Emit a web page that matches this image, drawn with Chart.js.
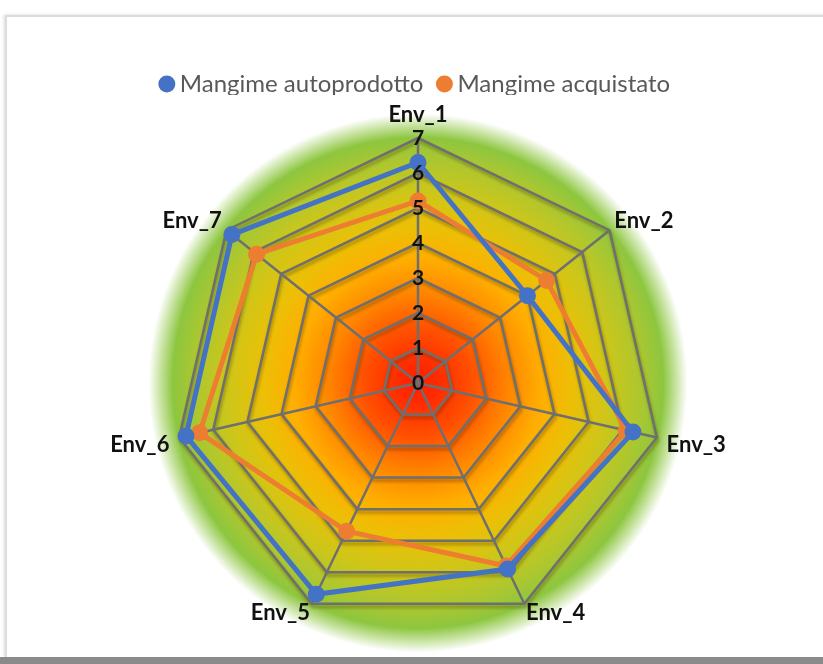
<!DOCTYPE html>
<html>
<head>
<meta charset="utf-8">
<script src="https://cdn.jsdelivr.net/npm/chart.js@4.4.1/dist/chart.umd.min.js"></script>
<style>
    html, body { margin: 0; padding: 0; background: #ffffff; }
    #wrap { position: relative; width: 823px; height: 664px; overflow: hidden; }
    #frame {
        position: absolute; left: 5px; top: 15px; width: 830px; height: 640px;
        border-top: 2px solid #dcdcdc; border-left: 2px solid #dcdcdc;
        box-shadow: -1px 0 3px rgba(0,0,0,0.15);
    }
    #band { position: absolute; left: 0; top: 657px; width: 823px; height: 7px; background: #8a8a8a; }
    #chart { position: absolute; left: 0; top: 0; }
</style>
</head>
<body>
<div id="wrap">
    <div id="frame"></div>
    <div id="band"></div>
    <canvas id="chart" width="823" height="664"></canvas>
</div>
<script>
// Data
const categories = ['Env_1', 'Env_2', 'Env_3', 'Env_4', 'Env_5', 'Env_6', 'Env_7'];
const autoprodotto = [6.3, 4.0, 6.3, 5.9, 6.7, 6.8, 6.8];
const acquistato = [5.2, 4.7, 6.1, 5.8, 4.7, 6.4, 5.9];
const seriesNames = ['Mangime autoprodotto', 'Mangime acquistato'];
const tickMin = 0;
const tickMax = 7;

// gap between each web corner and its label
const labelGap = [18, 6, 10, 4, 4, 10, 6];
const tickFont = { family: 'Lato', size: 21, weight: 'bold' };

// radial heat background behind the web, plus a soft shadow under the web lines
const heatBackground = {
    id: 'heatBackground',
    beforeDraw(chart) {
        const scale = chart.scales.r;
        const ctx = chart.ctx;
        const cx = scale.xCenter, cy = scale.yCenter, R = scale.drawingArea;
        const outer = R * 1.1;
        const g = ctx.createRadialGradient(cx, cy, 0, cx, cy, outer);
        g.addColorStop(0.00, '#ff1e00');
        g.addColorStop(0.07, '#ff2a00');
        g.addColorStop(0.20, '#ff5000');
        g.addColorStop(0.33, '#ff8400');
        g.addColorStop(0.46, '#ffae00');
        g.addColorStop(0.58, '#ebc006');
        g.addColorStop(0.71, '#cdc61a');
        g.addColorStop(0.84, '#a8c732');
        g.addColorStop(0.91, '#8dc63f');
        g.addColorStop(0.96, 'rgba(141,198,63,0.45)');
        g.addColorStop(1.00, 'rgba(141,198,63,0)');
        ctx.save();
        ctx.fillStyle = g;
        ctx.beginPath();
        ctx.arc(cx, cy, outer, 0, Math.PI * 2);
        ctx.fill();

        // shadow lines, offset a little below the grid
        const n = chart.data.labels.length;
        ctx.filter = 'blur(1.5px)';
        ctx.strokeStyle = 'rgba(70,45,0,0.35)';
        ctx.lineWidth = 3;
        ctx.translate(1, 3);
        for (let v = tickMin + 1; v <= tickMax; v++) {
            ctx.beginPath();
            for (let i = 0; i < n; i++) {
                const p = scale.getPointPositionForValue(i, v);
                if (i === 0) ctx.moveTo(p.x, p.y); else ctx.lineTo(p.x, p.y);
            }
            ctx.closePath();
            ctx.stroke();
        }
        ctx.restore();
    },
    // Chart.js skips the lowest tick label of a radar, so draw it here
    afterDraw(chart) {
        const scale = chart.scales.r;
        const ctx = chart.ctx;
        const pos = scale.getPointPositionForValue(0, tickMin);
        ctx.save();
        ctx.font = Chart.helpers.toFont(tickFont).string;
        ctx.fillStyle = '#111111';
        ctx.textAlign = 'center';
        ctx.textBaseline = 'middle';
        ctx.fillText(String(tickMin), pos.x, pos.y);
        ctx.restore();
    }
};

const ctx = document.getElementById('chart').getContext('2d');
new Chart(ctx, {
    type: 'radar',
    data: {
        labels: categories,
        datasets: [
            {
                label: seriesNames[0],
                data: autoprodotto,
                borderColor: '#4472c4',
                backgroundColor: '#4472c4',
                pointBackgroundColor: '#4472c4',
                pointBorderColor: '#4472c4',
                borderWidth: 5,
                pointRadius: 6,
                fill: false
            },
            {
                label: seriesNames[1],
                data: acquistato,
                borderColor: '#ed7d31',
                backgroundColor: '#ed7d31',
                pointBackgroundColor: '#ed7d31',
                pointBorderColor: '#ed7d31',
                borderWidth: 5,
                pointRadius: 6,
                fill: false
            }
        ]
    },
    options: {
        responsive: false,
        animation: false,
        layout: { padding: { top: 52, bottom: 20, left: 13, right: 0 } },
        plugins: {
            legend: {
                position: 'top',
                maxHeight: 43,
                labels: {
                    usePointStyle: true,
                    pointStyle: 'circle',
                    boxWidth: 2,
                    boxHeight: 8.5,
                    color: '#595959',
                    font: { family: 'Lato', size: 24 },
                    padding: 20
                }
            },
            tooltip: { enabled: false }
        },
        scales: {
            r: {
                min: tickMin,
                max: tickMax,
                ticks: {
                    stepSize: 1,
                    showLabelBackdrop: false,
                    backdropPadding: -10.5,
                    color: '#111111',
                    font: tickFont,
                    z: 1
                },
                grid: { color: '#6f6f6f', lineWidth: 2.5 },
                angleLines: { color: '#6f6f6f', lineWidth: 2.5 },
                pointLabels: {
                    color: '#111111',
                    font: { family: 'Lato', size: 22, weight: 'bold', lineHeight: 0.5 },
                    padding: (c) => labelGap[c.index]
                }
            }
        }
    },
    plugins: [heatBackground]
});
</script>
</body>
</html>
